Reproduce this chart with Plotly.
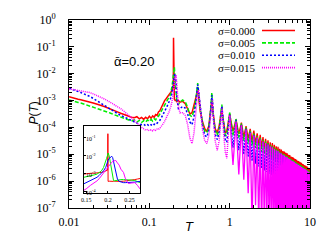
import plotly.graph_objects as go

# ---------------- data (log10 P) ----------------
T_LOW = [0.010, 0.011, 0.012, 0.013, 0.014, 0.015, 0.016, 0.018, 0.020, 0.022,
         0.024, 0.026, 0.028, 0.030, 0.033, 0.036, 0.040, 0.044, 0.048, 0.052,
         0.056, 0.060, 0.065, 0.070, 0.075, 0.080, 0.085, 0.090, 0.095, 0.100,
         0.105, 0.110, 0.115, 0.120, 0.125, 0.130, 0.135, 0.140, 0.145, 0.150,
         0.155, 0.160, 0.165, 0.170, 0.175, 0.180, 0.185, 0.190, 0.195]
T_MID = [0.199, 0.200, 0.201, 0.205, 0.210, 0.215, 0.220, 0.230, 0.240, 0.260,
         0.280, 0.300, 0.320, 0.340, 0.360, 0.380, 0.390, 0.400, 0.410, 0.430,
         0.460, 0.490, 0.520, 0.550, 0.570, 0.590, 0.600, 0.610, 0.630, 0.660,
         0.700, 0.740, 0.770, 0.790, 0.800, 0.810, 0.840, 0.880, 0.920, 0.960,
         0.990]
T_DENSE = [round(k / 10, 1) for k in range(10, 101)]

RED_LOW = [-2.86, -2.90, -2.92, -2.95, -2.97, -2.99, -3.02, -3.05, -3.09, -3.13,
           -3.16, -3.20, -3.23, -3.27, -3.31, -3.36, -3.42, -3.47, -3.52, -3.55,
           -3.58, -3.62, -3.64, -3.60, -3.68, -3.63, -3.70, -3.62, -3.68, -3.58,
           -3.66, -3.57, -3.62, -3.52, -3.55, -3.42, -3.38, -3.26, -3.15, -3.08,
           -3.00, -2.95, -2.90, -2.84, -2.80, -2.74, -2.70, -2.64, -2.55]
GREEN_LOW = [-2.98, -3.02, -3.04, -3.07, -3.09, -3.12, -3.14, -3.20, -3.24, -3.28,
             -3.31, -3.35, -3.38, -3.42, -3.47, -3.52, -3.57, -3.62, -3.66, -3.70,
             -3.73, -3.76, -3.72, -3.80, -3.74, -3.82, -3.75, -3.80, -3.72, -3.78,
             -3.70, -3.76, -3.68, -3.72, -3.62, -3.58, -3.50, -3.42, -3.33, -3.25,
             -3.16, -3.10, -3.02, -2.95, -2.88, -2.82, -2.74, -2.55, -2.30]
BLUE_LOW = [-2.54, -2.58, -2.62, -2.66, -2.70, -2.74, -2.77, -2.84, -2.92, -3.00,
            -3.08, -3.15, -3.21, -3.27, -3.35, -3.41, -3.48, -3.55, -3.61, -3.66,
            -3.71, -3.75, -3.80, -3.84, -3.87, -3.90, -3.88, -3.94, -3.90, -3.95,
            -3.90, -3.94, -3.88, -3.90, -3.84, -3.80, -3.74, -3.66, -3.58, -3.50,
            -3.41, -3.32, -3.24, -3.15, -3.08, -3.00, -2.90, -2.78, -2.60]
MAG_LOW = [-2.56, -2.58, -2.60, -2.61, -2.63, -2.64, -2.66, -2.70, -2.75, -2.80,
           -2.85, -2.90, -2.95, -3.00, -3.07, -3.14, -3.22, -3.30, -3.39, -3.47,
           -3.56, -3.64, -3.74, -3.84, -3.93, -4.00, -4.05, -4.10, -4.08, -4.12,
           -4.09, -4.13, -4.08, -4.11, -4.06, -4.07, -4.03, -3.98, -3.92, -3.85,
           -3.77, -3.70, -3.62, -3.52, -3.44, -3.35, -3.22, -3.08, -2.95]

RED_MID = [-2.45, -0.66, -2.85, -2.95, -3.00, -2.98, -3.04, -3.00, -3.06, -3.03,
           -3.12, -3.30, -3.50, -3.45, -3.20, -2.95, -2.75, -2.55, -2.90, -3.40,
           -3.80, -4.05, -4.15, -3.95, -3.55, -3.15, -2.95, -3.25, -3.70, -4.05,
           -4.20, -3.95, -3.60, -3.35, -3.25, -3.50, -3.90, -4.20, -4.15, -3.80,
           -3.55]
GREEN_MID = [-2.05, -1.90, -1.80, -1.75, -2.30, -2.80, -3.05, -3.15, -3.05, -2.98,
             -3.05, -3.25, -3.55, -3.60, -3.35, -2.95, -2.65, -2.35, -2.70, -3.30,
             -3.85, -4.15, -4.20, -4.00, -3.60, -3.05, -2.70, -3.05, -3.65, -4.10,
             -4.30, -4.05, -3.65, -3.35, -3.15, -3.45, -3.95, -4.30, -4.30, -3.90,
             -3.55]
BLUE_MID = [-2.45, -2.35, -2.25, -2.05, -2.00, -2.35, -2.90, -3.30, -3.30, -3.22,
            -3.28, -3.50, -3.80, -3.90, -3.60, -3.05, -2.70, -2.40, -2.65, -3.30,
            -3.95, -4.30, -4.35, -4.10, -3.70, -3.15, -2.80, -3.00, -3.70, -4.25,
            -4.45, -4.20, -3.75, -3.40, -3.20, -3.40, -4.00, -4.45, -4.55, -4.10,
            -3.60]
MAG_MID = [-2.75, -2.65, -2.55, -2.35, -2.12, -2.05, -2.40, -3.20, -3.45, -3.45,
           -3.55, -3.90, -4.40, -4.60, -4.20, -3.40, -3.00, -2.70, -2.60, -3.30,
           -4.10, -4.50, -4.60, -4.30, -3.80, -3.20, -2.95, -2.95, -3.70, -4.50,
           -4.85, -4.50, -3.90, -3.45, -3.30, -3.35, -4.20, -4.90, -5.15, -4.40,
           -3.70]

RED_DENSE = [-3.50, -4.15, -3.70, -4.25, -3.82, -4.35, -3.95, -4.42, -4.05, -4.50,
             -4.12, -4.58, -4.22, -4.65, -4.28, -4.72, -4.36, -4.80, -4.42, -4.85,
             -4.48, -4.92, -4.55, -4.98, -4.58, -5.02, -4.65, -5.08, -4.70, -5.12,
             -4.72, -5.16, -4.80, -5.20, -4.82, -5.24, -4.88, -5.28, -4.90, -5.32,
             -4.94, -5.35, -4.96, -5.38, -5.02, -5.42, -5.03, -5.45, -5.08, -5.48,
             -5.10, -5.50, -5.12, -5.53, -5.16, -5.55, -5.18, -5.58, -5.20, -5.60,
             -5.24, -5.62, -5.25, -5.64, -5.28, -5.66, -5.30, -5.68, -5.32, -5.70,
             -5.35, -5.72, -5.36, -5.74, -5.40, -5.76, -5.41, -5.78, -5.43, -5.80,
             -5.45, -5.82, -5.46, -5.84, -5.50, -5.86, -5.50, -5.88, -5.52, -5.90,
             -5.54]
GREEN_DENSE = [-3.45, -4.30, -3.68, -4.40, -3.85, -4.50, -4.00, -4.60, -4.12, -4.68,
               -4.22, -4.76, -4.32, -4.84, -4.38, -4.90, -4.46, -4.98, -4.52, -5.04,
               -4.58, -5.10, -4.65, -5.15, -4.68, -5.20, -4.75, -5.25, -4.80, -5.30,
               -4.83, -5.34, -4.90, -5.38, -4.92, -5.42, -4.98, -5.46, -5.00, -5.50,
               -5.04, -5.53, -5.07, -5.56, -5.12, -5.60, -5.13, -5.63, -5.18, -5.66,
               -5.20, -5.68, -5.22, -5.71, -5.26, -5.73, -5.28, -5.76, -5.30, -5.78,
               -5.34, -5.80, -5.35, -5.82, -5.38, -5.84, -5.40, -5.86, -5.42, -5.88,
               -5.45, -5.90, -5.46, -5.92, -5.50, -5.94, -5.51, -5.96, -5.53, -5.98,
               -5.55, -6.00, -5.56, -6.02, -5.60, -6.04, -5.60, -6.06, -5.62, -6.08,
               -5.64]
BLUE_DENSE = [-3.52, -4.75, -3.72, -4.85, -3.90, -5.00, -4.05, -5.10, -4.18, -5.25,
              -4.28, -5.35, -4.38, -5.45, -4.45, -5.52, -4.52, -5.60, -4.58, -5.66,
              -4.64, -5.72, -4.70, -5.78, -4.74, -5.82, -4.80, -5.88, -4.86, -5.92,
              -4.88, -5.96, -4.95, -6.00, -4.98, -6.04, -5.03, -6.08, -5.06, -6.12,
              -5.10, -6.14, -5.12, -6.18, -5.17, -6.20, -5.19, -6.24, -5.23, -6.26,
              -5.26, -6.28, -5.28, -6.32, -5.31, -6.34, -5.34, -6.36, -5.36, -6.38,
              -5.39, -6.40, -5.41, -6.42, -5.44, -6.44, -5.46, -6.46, -5.48, -6.48,
              -5.50, -6.50, -5.52, -6.52, -5.55, -6.54, -5.56, -6.56, -5.58, -6.58,
              -5.60, -6.60, -5.62, -6.62, -5.65, -6.64, -5.66, -6.66, -5.68, -6.68,
              -5.70]
MAG_DENSE = [-3.55, -5.40, -3.78, -5.75, -3.92, -5.95, -4.08, -6.45, -4.20, -7.60,
             -4.30, -6.90, -4.38, -7.60, -4.45, -7.80, -4.52, -7.70, -4.58, -7.60,
             -4.64, -7.80, -4.70, -7.70, -4.74, -7.60, -4.80, -7.80, -4.85, -7.70,
             -4.88, -7.60, -4.94, -7.80, -4.97, -7.70, -5.02, -7.60, -5.05, -7.80,
             -5.09, -7.70, -5.11, -7.60, -5.16, -7.80, -5.18, -7.70, -5.22, -7.60,
             -5.25, -7.80, -5.27, -7.70, -5.30, -7.60, -5.33, -7.80, -5.35, -7.70,
             -5.38, -7.60, -5.40, -7.80, -5.43, -7.70, -5.45, -7.60, -5.47, -7.80,
             -5.49, -7.70, -5.51, -7.60, -5.54, -7.80, -5.55, -7.70, -5.57, -7.60,
             -5.59, -7.80, -5.61, -7.70, -5.64, -7.60, -5.65, -7.80, -5.67, -7.70,
             -5.69]

# inset (zoom around the main peak)
T_IN = [0.145, 0.150, 0.160, 0.170, 0.175, 0.180, 0.185, 0.190, 0.195, 0.197,
        0.1995, 0.200, 0.2005, 0.203, 0.205, 0.207, 0.209, 0.211, 0.213, 0.215,
        0.218, 0.222, 0.226, 0.230, 0.236, 0.240, 0.243, 0.247, 0.255, 0.262,
        0.268, 0.274]
RED_IN = [-3.02, -3.00, -2.98, -2.97, -2.97, -2.96, -2.93, -2.90, -2.86, -2.84,
          -2.80, -0.77, -3.43, -3.42, -3.43, -3.42, -3.43, -3.42, -3.43, -3.42,
          -3.43, -3.42, -3.43, -3.43, -3.42, -3.41, -3.40, -3.40, -3.37, -3.33,
          -3.30, -3.27]
GREEN_IN = [-3.20, -3.18, -3.12, -3.06, -3.02, -2.95, -2.85, -2.66, -2.35, -2.15,
            -1.95, -1.88, -1.85, -2.00, -2.30, -2.65, -2.95, -3.20, -3.38, -3.40,
            -3.38, -3.36, -3.34, -3.33, -3.33, -3.33, -3.34, -3.35, -3.36, -3.38,
            -3.44, -3.50]
BLUE_IN = [-3.56, -3.50, -3.40, -3.28, -3.20, -3.10, -2.98, -2.84, -2.65, -2.48,
           -2.35, -2.30, -2.25, -2.15, -2.10, -2.06, -2.03, -2.10, -2.30, -2.55,
           -2.84, -3.30, -3.43, -3.47, -3.50, -3.50, -3.50, -3.49, -3.48, -3.47,
           -3.45, -3.43]
MAG_IN = [-3.92, -3.85, -3.65, -3.50, -3.40, -3.28, -3.12, -2.93, -2.78, -2.70,
          -2.62, -2.60, -2.57, -2.52, -2.48, -2.42, -2.36, -2.32, -2.30, -2.28,
          -2.26, -2.40, -2.52, -2.75, -2.93, -3.25, -3.40, -3.55, -3.52, -3.50,
          -3.65, -3.85]

SERIES = [
    ("σ=0.000", "#ff0000", "solid", "solid", RED_LOW, RED_MID, RED_DENSE, RED_IN),
    ("σ=0.005", "#00ee00", "4px,2px", "3px,1px", GREEN_LOW, GREEN_MID, GREEN_DENSE, GREEN_IN),
    ("σ=0.010", "#0000ff", "2px,2px", "2px,1px", BLUE_LOW, BLUE_MID, BLUE_DENSE, BLUE_IN),
    ("σ=0.015", "#ff00ff", "1px,1px", "solid", MAG_LOW, MAG_MID, MAG_DENSE, MAG_IN),
]

X_TICKS = [0.01, 0.1, 1, 10]
X_TICKTEXT = ["0.01", "0.1", "1", "10"]
Y_EXPS = [0, -1, -2, -3, -4, -5, -6, -7]
IN_X_TICKS = [0.15, 0.2, 0.25]
IN_X_TICKTEXT = ["0.15", "0.2", "0.25"]
IN_Y_EXPS = [-1, -2, -3, -4]

SERIF = "Liberation Serif"
SANS = "Liberation Sans"

fig = go.Figure()
T_FIRST = T_LOW + T_MID + T_DENSE[:1]
for name, color, dash, dash_dense, lo, mid, dense, inset in SERIES:
    # low/mid part with the series' dash pattern
    fig.add_trace(go.Scatter(
        x=T_FIRST, y=[10 ** v for v in lo + mid + dense[:1]], mode="lines", name=name,
        line=dict(color=color, width=1.5, dash=dash), showlegend=False,
        xaxis="x", yaxis="y"))
    # dense oscillating tail of the same series
    fig.add_trace(go.Scatter(
        x=T_DENSE, y=[10 ** v for v in dense], mode="lines", name=name,
        line=dict(color=color, width=1.3, dash=dash_dense), showlegend=False,
        xaxis="x", yaxis="y"))
for name, color, dash, dash_dense, lo, mid, dense, inset in SERIES:
    fig.add_trace(go.Scatter(
        x=T_IN, y=[10 ** v for v in inset], mode="lines", showlegend=False,
        line=dict(color=color, width=1), xaxis="x2", yaxis="y2"))

# manual legend (text left, sample right)
W, H, L, B = 241, 193, 69, 208
def px(xp):
    return (xp - L) / W
def py(yp):
    return (B - yp) / H

rows = [25.8, 38.5, 51.2, 63.9]
for (name, color, dash, *_), yr in zip(SERIES, rows):
    fig.add_annotation(x=px(256), y=py(yr), xref="paper", yref="paper",
                       text=name, showarrow=False, xanchor="right", yanchor="middle",
                       borderpad=0,
                       font=dict(family=SERIF, size=11, color="black"))
    fig.add_shape(type="line", xref="paper", yref="paper",
                  x0=px(262), x1=px(295), y0=py(yr), y1=py(yr),
                  line=dict(color=color, width=1.6, dash=dash))

# inset y tick labels, drawn inside the inset frame
for e in IN_Y_EXPS:
    fig.add_annotation(x=px(85), y=e, xref="paper", yref="y2",
                       text="10<sup>%d</sup>" % e, showarrow=False,
                       xanchor="left", yanchor="middle", borderpad=0,
                       font=dict(family=SERIF, size=6, color="black"))

fig.add_annotation(x=px(112), y=py(48), xref="paper", yref="paper",
                   text="ᾱ=0.20", showarrow=False,
                   font=dict(family=SANS, size=13, color="black"))
fig.add_annotation(x=px(189), y=py(237), xref="paper", yref="paper",
                   text="<i>T</i>", showarrow=False,
                   font=dict(family=SANS, size=13, color="black"))
fig.add_annotation(x=px(25), y=py(111), xref="paper", yref="paper",
                   text="<i>P</i>(<i>T</i>)", showarrow=False, textangle=-90,
                   font=dict(family=SANS, size=12, color="black"))

x_minor = [k * 10 ** e for e in (-2, -1, 0) for k in range(2, 10)]
y_minor = [k * 10 ** e for e in range(-7, 0) for k in range(2, 10)]

fig.update_layout(
    width=329, height=247,
    margin=dict(l=69, r=19, t=15, b=39),
    paper_bgcolor="white", plot_bgcolor="white",
    showlegend=False,
    xaxis=dict(type="log", range=[-2, 1], domain=[0, 1],
               tickvals=X_TICKS, ticktext=X_TICKTEXT,
               ticks="inside", ticklen=5, tickcolor="black",
               showline=True, linecolor="black", linewidth=1, mirror="allticks",
               showgrid=False, zeroline=False, ticklabelstandoff=3,
               tickfont=dict(family=SERIF, size=12, color="black"),
               minor=dict(tickvals=x_minor, ticks="inside", ticklen=3,
                          tickcolor="black", showgrid=False)),
    yaxis=dict(type="log", range=[-7, 0], domain=[0, 1],
               tickvals=[10 ** e for e in Y_EXPS],
               ticktext=["10<sup>%d</sup>" % e for e in Y_EXPS],
               ticks="inside", ticklen=5, tickcolor="black",
               showline=True, linecolor="black", linewidth=1, mirror="allticks",
               showgrid=False, zeroline=False, ticklabelstandoff=10,
               tickfont=dict(family=SERIF, size=12, color="black"),
               minor=dict(tickvals=y_minor, ticks="inside", ticklen=3,
                          tickcolor="black", showgrid=False)),
    xaxis2=dict(anchor="y2", domain=[px(84), px(140)], range=[0.145, 0.274],
                tickvals=IN_X_TICKS, ticktext=IN_X_TICKTEXT,
                ticks="inside", ticklen=2, tickcolor="black",
                showline=True, linecolor="black", linewidth=1, mirror=True,
                showgrid=False, zeroline=False,
                tickfont=dict(family=SERIF, size=6, color="black")),
    yaxis2=dict(anchor="x2", type="log", domain=[py(193), py(124)],
                range=[-4.1, -0.35],
                tickvals=[10 ** e for e in IN_Y_EXPS],
                showticklabels=False,
                ticks="inside", ticklen=2, tickcolor="black",
                showline=True, linecolor="black", linewidth=1, mirror=True,
                showgrid=False, zeroline=False),
)

fig.write_html("out.html",
               config={"displayModeBar": False},
               post_script="document.body.style.margin='0';"
                           "document.body.style.overflow='hidden';")
